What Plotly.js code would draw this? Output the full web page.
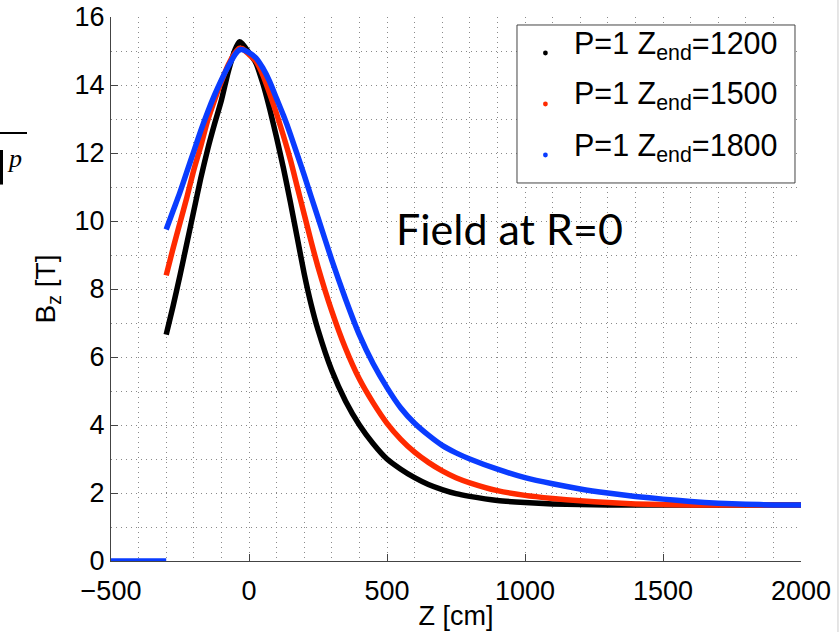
<!DOCTYPE html>
<html>
<head>
<meta charset="utf-8">
<script src="https://cdn.plot.ly/plotly-3.0.1.min.js"></script>
<style>html,body{margin:0;padding:0;background:#fff;}#chart{width:840px;height:632px;}</style>
</head>
<body>
<div id="chart"></div>
<script>
// Z positions [cm]
const zPos = [-300,-275,-250,-225,-200,-175,-150,-125,-100,-75,-50,-35,-25,0,25,50,75,100,125,150,175,200,225,250,300,350,400,450,500,550,600,650,700,750,800,900,1000,1100,1200,1300,1400,1500,1600,1700,1800,1900,2000];
// Bz [T] at R=0, P=1
const bzEnd1200 = [6.66,7.5,8.4,9.35,10.3,11.25,12.1,12.85,13.55,14.4,15.05,15.27,15.22,14.95,14.65,14.05,13.3,12.45,11.55,10.55,9.5,8.45,7.55,6.8,5.6,4.7,4.0,3.45,3.0,2.7,2.45,2.25,2.1,1.98,1.9,1.78,1.72,1.68,1.66,1.65,1.65,1.65,1.65,1.65,1.65,1.65,1.65];
const bzEnd1500 = [8.4,9.2,9.95,10.7,11.5,12.2,12.95,13.55,14.1,14.6,14.95,15.08,15.07,14.9,14.7,14.3,13.75,13.15,12.5,11.8,11.0,10.2,9.4,8.65,7.35,6.25,5.35,4.65,4.05,3.58,3.2,2.9,2.65,2.45,2.3,2.07,1.93,1.84,1.77,1.72,1.68,1.66,1.65,1.65,1.65,1.65,1.65];
const bzEnd1800 = [9.75,10.3,10.85,11.45,12.05,12.65,13.2,13.7,14.15,14.55,14.9,15.03,15.04,14.95,14.8,14.5,14.1,13.6,13.1,12.55,11.95,11.35,10.72,10.1,8.85,7.7,6.65,5.8,5.1,4.5,4.05,3.7,3.4,3.18,3.0,2.7,2.45,2.27,2.12,2.0,1.9,1.82,1.75,1.7,1.67,1.65,1.65];
// field outside the magnet, upstream
const zeroZ = [-500,-400,-300];
const zeroBz = [0,0,0];
const seriesNames = ['P=1 Z<sub>end</sub>=1200','P=1 Z<sub>end</sub>=1500','P=1 Z<sub>end</sub>=1800'];
const seriesColors = ['#000000','#ff2a00','#0a3cff'];
const seriesData = [bzEnd1200, bzEnd1500, bzEnd1800];
const xTicks = [-500,0,500,1000,1500,2000];
const yTicks = [0,2,4,6,8,10,12,14,16];

const traces = [];
seriesData.forEach((ys, i) => {
  traces.push({x: zPos, y: ys, mode: 'lines', name: seriesNames[i], line: {color: seriesColors[i], width: 5.5, shape: 'spline', smoothing: 0.6}, showlegend: false, hoverinfo: 'skip'});
});
traces.push({x: zeroZ, y: zeroBz, mode: 'lines', line: {color: seriesColors[2], width: 5.5}, showlegend: false, hoverinfo: 'skip'});

const font = 'Liberation Sans, Arial, sans-serif';
const grid = {showgrid: true, gridcolor: '#8a8a8a', griddash: '1px,4px', gridwidth: 1};

// hand-built legend box (matches the reference's text/dot placement)
const legLeft = 0.5884, legRight = 0.9913, legBottom = 0.6949, legTop = 0.9853;
const legTextX = 0.6685, legDotX = 0.6296;
const legRowY = [0.9485, 0.8548, 0.7610];
const legDotY = [0.9338, 0.8401, 0.7463];

const annotations = [
  {x: 943, y: 9.78, xref: 'x', yref: 'y', text: 'Field at R=0', showarrow: false,
   font: {family: 'Lato, Open Sans, sans-serif', size: 43, color: '#000'}},
  {x: -0.153, y: 0.770, xref: 'paper', yref: 'paper', xanchor: 'left', text: '<i>p</i>', showarrow: false,
   font: {family: 'Liberation Serif, serif', size: 26, color: '#000'}}
];
const shapes = [
  {type: 'line', xref: 'paper', yref: 'paper', x0: -0.165, x1: -0.1217, y0: 0.7868, y1: 0.7868, line: {color: '#000', width: 2}},
  {type: 'line', xref: 'paper', yref: 'paper', x0: -0.1587, x1: -0.1587, y0: 0.7555, y1: 0.692, line: {color: '#000', width: 3}},
  {type: 'line', xref: 'paper', yref: 'paper', x0: 1.0536, x1: 1.0536, y0: -0.2, y1: 1.1, line: {color: '#cccccc', width: 1}},
  {type: 'rect', xref: 'paper', yref: 'paper', x0: legLeft, x1: legRight, y0: legBottom, y1: legTop, fillcolor: '#fff', line: {color: '#444', width: 1}, layer: 'above'}
];
seriesNames.forEach((nm, i) => {
  annotations.push({x: legTextX, y: legRowY[i], xref: 'paper', yref: 'paper', xanchor: 'left', yanchor: 'middle', text: nm, showarrow: false,
    font: {family: font, size: 30.5, color: '#000'}});
  shapes.push({type: 'circle', xref: 'paper', yref: 'paper', xsizemode: 'pixel', ysizemode: 'pixel', xanchor: legDotX, yanchor: legDotY[i],
    x0: -2.4, x1: 2.4, y0: -2.4, y1: 2.4, fillcolor: seriesColors[i], line: {width: 0}, layer: 'above'});
});

const layout = {
  width: 840, height: 632,
  margin: {l: 111, r: 39, t: 17, b: 71},
  paper_bgcolor: '#fff', plot_bgcolor: '#fff',
  font: {family: font, color: '#000', size: 27},
  showlegend: false,
  xaxis: Object.assign({
    range: [-500, 2000], tickvals: xTicks, ticks: 'inside', ticklen: 7, tickcolor: '#444',
    showline: true, linecolor: '#444', linewidth: 1, zeroline: false,
    minor: Object.assign({dtick: 100}, grid),
    tickfont: {size: 27, family: font}, ticklabelstandoff: 6,
    title: {text: 'Z [cm]', font: {size: 27, family: font}, standoff: 0}
  }, grid),
  yaxis: Object.assign({
    range: [0, 16], tickvals: yTicks, ticks: 'inside', ticklen: 7, tickcolor: '#444',
    showline: true, linecolor: '#444', linewidth: 1, zeroline: false,
    minor: Object.assign({dtick: 1}, grid),
    tickfont: {size: 27, family: font},
    title: {text: 'B<sub>z</sub> [T]', font: {size: 28, family: font}, standoff: 10}
  }, grid),
  annotations: annotations,
  shapes: shapes
};

Plotly.newPlot('chart', traces, layout, {displayModeBar: false, staticPlot: true});
</script>
</body>
</html>
